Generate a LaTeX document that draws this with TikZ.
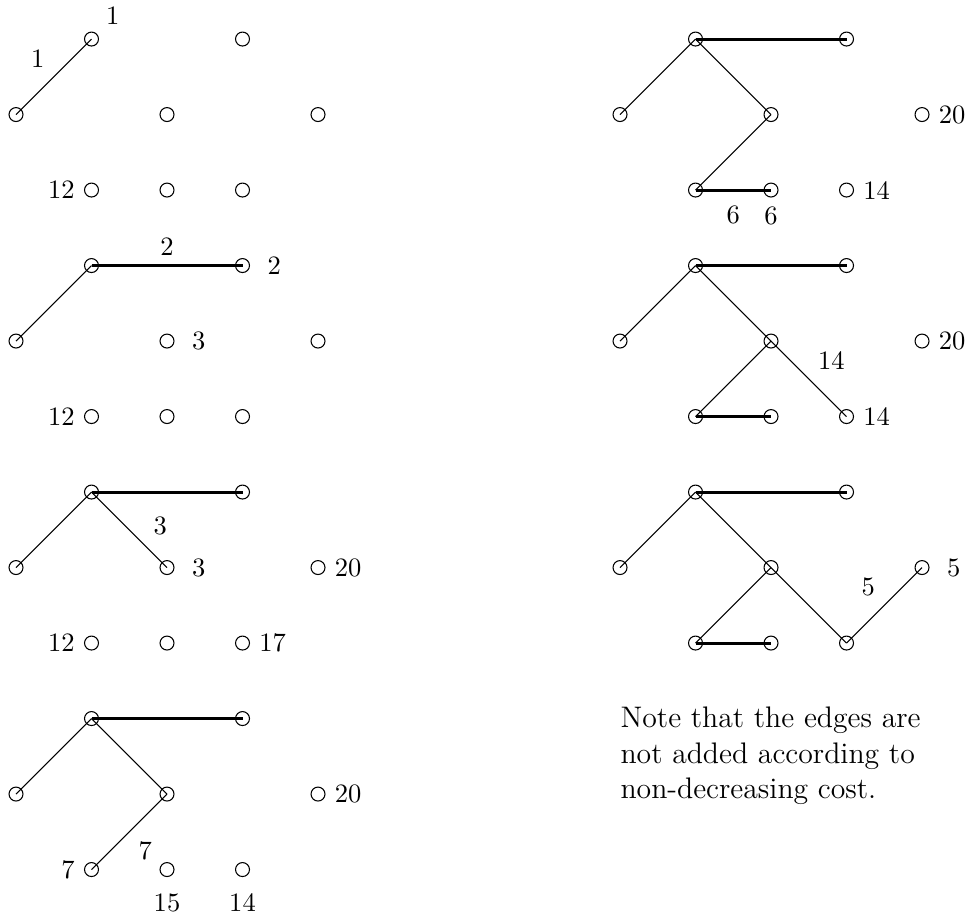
\documentclass[tikz,border=0pt]{standalone}
\usepackage{tikz}
\usetikzlibrary{positioning}

\begin{document}
\begin{tikzpicture}[
  node distance=0pt,
  vtx/.style={draw,circle,inner sep=0pt,minimum size=1.85mm,line width=0.4pt},
  edge/.style={line width=0.4pt},
  tree/.style={line width=1.1pt},
  remark/.style={align=left,inner sep=0pt,font={\fontsize{11.2pt}{13.4pt}\selectfont}}]
\useasboundingbox (-0.212,0.517) rectangle (12.609,-11.629);
% the same eight vertices in every snapshot
\foreach \p/\x/\y in {A/0/0,B/0/-3,C/0/-6,D/0/-9,E/8/0,F/8/-3,G/8/-6} {
  \node[vtx] (\p1) at (\x+1,\y) {};
  \node[vtx] (\p2) at (\x+3,\y) {};
  \node[vtx] (\p3) at (\x,\y-1) {};
  \node[vtx] (\p4) at (\x+2,\y-1) {};
  \node[vtx] (\p5) at (\x+4,\y-1) {};
  \node[vtx] (\p6) at (\x+1,\y-2) {};
  \node[vtx] (\p7) at (\x+2,\y-2) {};
  \node[vtx] (\p8) at (\x+3,\y-2) {};
}
% step 1
\draw[edge] (A3.center) -- node[above left] {1} (A1.center);
\node[above right=of A1] {1};
\node[left=of A6] {12};
% step 2
\draw[edge] (B3.center) -- (B1.center);
\draw[tree] (B1.center) -- node[above] {2} (B2.center);
\node[right=1.1mm of B2] {2};
\node[right=1.1mm of B4] {3};
\node[left=of B6] {12};
% step 3
\draw[edge] (C3.center) -- (C1.center);
\draw[tree] (C1.center) -- (C2.center);
\draw[edge] (C1.center) -- node[pos=0.7,above right] {3} (C4.center);
\node[right=1.1mm of C4] {3};
\node[right=of C5] {20};
\node[left=of C6] {12};
\node[right=of C8] {17};
% step 4
\draw[edge] (D3.center) -- (D1.center);
\draw[tree] (D1.center) -- (D2.center);
\draw[edge] (D1.center) -- (D4.center);
\draw[edge] (D4.center) -- node[below right] {7} (D6.center);
\node[right=of D5] {20};
\node[left=of D6] {7};
\node[below=1mm of D7] {15};
\node[below=1mm of D8] {14};
% step 5
\draw[edge] (E3.center) -- (E1.center);
\draw[tree] (E1.center) -- (E2.center);
\draw[edge] (E1.center) -- (E4.center);
\draw[edge] (E4.center) -- (E6.center);
\draw[tree] (E6.center) -- node[below=2pt] {6} (E7.center);
\node[right=of E5] {20};
\node[below=of E7] {6};
\node[right=of E8] {14};
% step 6
\draw[edge] (F3.center) -- (F1.center);
\draw[tree] (F1.center) -- (F2.center);
\draw[edge] (F1.center) -- (F4.center);
\draw[edge] (F4.center) -- (F6.center);
\draw[tree] (F6.center) -- (F7.center);
\draw[edge] (F4.center) -- node[above right] {14} (F8.center);
\node[right=of F5] {20};
\node[right=of F8] {14};
% step 7
\draw[edge] (G3.center) -- (G1.center);
\draw[tree] (G1.center) -- (G2.center);
\draw[edge] (G1.center) -- (G4.center);
\draw[edge] (G4.center) -- (G6.center);
\draw[tree] (G6.center) -- (G7.center);
\draw[edge] (G4.center) -- (G8.center);
\draw[edge] (G8.center) -- node[above left] {5} (G5.center);
\node[right=1.1mm of G5] {5};
\node[remark,anchor=north west] (note) at (8.0,-8.84)
  {Note that the edges are\\not added according to\\non-decreasing cost.};
\end{tikzpicture}
\end{document}
